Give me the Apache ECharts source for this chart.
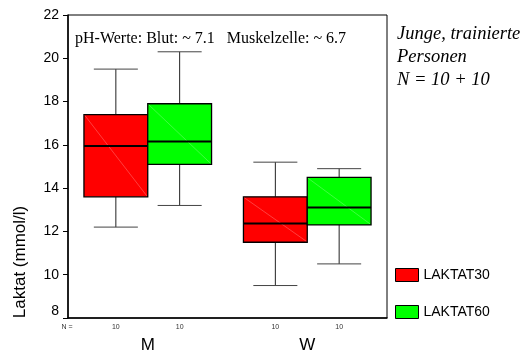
<!DOCTYPE html>
<html><head><meta charset="utf-8">
<script src="https://cdn.jsdelivr.net/npm/echarts@6/dist/echarts.min.js"></script>
<style>html,body{margin:0;padding:0;background:#fff}#c{width:528px;height:356px}</style>
</head><body><div id="c"></div>
<script>
var categories = ['M', 'W'];
// [min, Q1, median, Q3, max]
var laktat30 = [[12.2, 13.6, 15.95, 17.4, 19.5], [9.5, 11.5, 12.37, 13.6, 15.2]];
var laktat60 = [[13.2, 15.1, 16.15, 17.9, 20.3], [10.5, 12.3, 13.1, 14.5, 14.9]];
var n30 = [10, 10];
var n60 = [10, 10];
var yTicks = [8, 10, 12, 14, 16, 18, 20, 22];

function toData(arr) { return arr.map(function (b, i) { return [i].concat(b); }); }

function makeRender(side, nArr, fill) {
  return function (params, api) {
    var ci = api.value(0);
    var band = api.size([1, 0])[0];
    var bw = band * 0.4;
    var cx = api.coord([ci, 8])[0] + side * bw / 2;
    var x0 = cx - bw / 2;
    var yMin = api.coord([ci, api.value(1)])[1];
    var yQ1 = api.coord([ci, api.value(2)])[1];
    var yMed = api.coord([ci, api.value(3)])[1];
    var yQ3 = api.coord([ci, api.value(4)])[1];
    var yMax = api.coord([ci, api.value(5)])[1];
    var capW = bw * 0.69;
    var bottom = params.coordSys.y + params.coordSys.height;
    var wStyle = { stroke: '#222', lineWidth: 1 };
    return {
      type: 'group',
      children: [
        { type: 'line', shape: { x1: cx, y1: yMax, x2: cx, y2: yQ3 }, style: wStyle },
        { type: 'line', shape: { x1: cx - capW / 2, y1: yMax, x2: cx + capW / 2, y2: yMax }, style: { stroke: '#444', lineWidth: 1 } },
        { type: 'line', shape: { x1: cx, y1: yQ1, x2: cx, y2: yMin }, style: wStyle },
        { type: 'line', shape: { x1: cx - capW / 2, y1: yMin, x2: cx + capW / 2, y2: yMin }, style: { stroke: '#444', lineWidth: 1 } },
        { type: 'rect', shape: { x: x0, y: yQ3, width: bw, height: yQ1 - yQ3 }, style: { fill: fill, stroke: '#000', lineWidth: 1.3 } },
        { type: 'line', shape: { x1: x0 + 1, y1: yQ3 + 1, x2: x0 + bw - 1, y2: yQ1 - 1 }, style: { stroke: 'rgba(255,255,255,0.35)', lineWidth: 0.7 } },
        { type: 'line', shape: { x1: x0, y1: yMed, x2: x0 + bw, y2: yMed }, style: { stroke: '#000', lineWidth: 2 } },
        { type: 'text', x: cx, y: bottom + 9, style: { text: String(nArr[ci]), font: '7px "Liberation Sans", Arial', fill: '#333', align: 'center', verticalAlign: 'middle' } }
      ]
    };
  };
}

var chart = echarts.init(document.getElementById('c'), null, { renderer: 'canvas' });
chart.setOption({
  animation: false,
  backgroundColor: '#fff',
  grid: { left: 68, top: 15, right: 141, bottom: 38, show: true, borderColor: '#000', borderWidth: 1 },
  xAxis: {
    type: 'category', data: categories,
    axisLine: { lineStyle: { color: '#000', width: 1.5 } },
    axisTick: { alignWithLabel: true, length: 2, lineStyle: { color: '#000', width: 2 } },
    axisLabel: { margin: 19, fontSize: 17, color: '#000', fontFamily: '"Liberation Sans", Arial' },
    splitLine: { show: false }
  },
  yAxis: {
    type: 'value', min: yTicks[0], max: yTicks[yTicks.length - 1], interval: 2,
    axisLine: { show: true, lineStyle: { color: '#000', width: 1.5 } },
    axisTick: { show: true, length: 5, lineStyle: { color: '#000' } },
    axisLabel: { margin: 9, fontSize: 14, color: '#000', fontFamily: '"Liberation Sans", Arial', verticalAlignMinLabel: 'bottom' },
    splitLine: { show: false }
  },
  legend: {
    orient: 'vertical', left: 390, top: 263, itemWidth: 23, itemHeight: 13, itemGap: 23,
    icon: 'rect',
    textStyle: { fontSize: 14, color: '#000', fontFamily: '"Liberation Sans", Arial' },
    data: [
      { name: 'LAKTAT30', itemStyle: { color: '#ff0000', borderColor: '#000', borderWidth: 1 } },
      { name: 'LAKTAT60', itemStyle: { color: '#00ff00', borderColor: '#000', borderWidth: 1 } }
    ]
  },
  graphic: [
    { type: 'text', x: 20, y: 262, rotation: Math.PI / 2, style: { text: 'Laktat (mmol/l)', font: '17px "Liberation Sans", Arial', fill: '#000', align: 'center', verticalAlign: 'middle' } },
    { type: 'text', x: 75, y: 39, style: { text: 'pH-Werte: Blut: ~ 7.1   Muskelzelle: ~ 6.7', font: '16px "Liberation Serif", "Times New Roman"', fill: '#000', verticalAlign: 'middle' } },
    { type: 'text', x: 397, y: 34, style: { text: 'Junge, trainierte', font: 'italic 18.5px "Liberation Serif", "Times New Roman"', fill: '#000', verticalAlign: 'middle' } },
    { type: 'text', x: 397, y: 57, style: { text: 'Personen', font: 'italic 18.5px "Liberation Serif", "Times New Roman"', fill: '#000', verticalAlign: 'middle' } },
    { type: 'text', x: 397, y: 80, style: { text: 'N = 10 + 10', font: 'italic 18.5px "Liberation Serif", "Times New Roman"', fill: '#000', verticalAlign: 'middle' } },
    { type: 'text', x: 67, y: 327, style: { text: 'N =', font: '7px "Liberation Sans", Arial', fill: '#333', align: 'center', verticalAlign: 'middle' } }
  ],
  series: [
    { name: 'LAKTAT30', type: 'custom', itemStyle: { color: '#ff0000' }, data: toData(laktat30),
      encode: { x: 0, y: [1, 2, 3, 4, 5] }, renderItem: makeRender(-1, n30, '#ff0000') },
    { name: 'LAKTAT60', type: 'custom', itemStyle: { color: '#00ff00' }, data: toData(laktat60),
      encode: { x: 0, y: [1, 2, 3, 4, 5] }, renderItem: makeRender(1, n60, '#00ff00') }
  ]
});
</script></body></html>
